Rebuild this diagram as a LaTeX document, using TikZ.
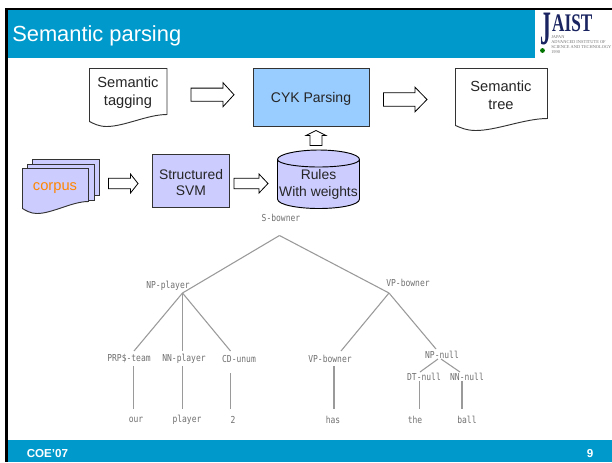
\documentclass[tikz,border=0pt]{standalone}
\usepackage{fontspec}
\setmainfont{Liberation Sans}
\newfontfamily\treefont{DejaVu Sans Mono}
\newfontfamily\logofont{Liberation Serif}
\definecolor{teal}{HTML}{0099CC}
\definecolor{lav}{HTML}{CCCCFF}
\definecolor{sky}{HTML}{99CCFF}
\definecolor{edge}{HTML}{333333}
\definecolor{treecol}{HTML}{9A9A9A}
\definecolor{treetxt}{HTML}{707070}
\definecolor{navy}{HTML}{1A2460}
\tikzset{
 x=0.75pt,y=-0.75pt,
 tnode/.style={text=treetxt,font=\treefont\fontsize{6}{7}\selectfont,inner sep=0pt,yscale=1.2},
 tline/.style={draw=treecol,line width=0.8pt},
 blockarrow/.style={draw=black,fill=white,line width=0.6pt},
 doc/.style={draw=edge,line width=0.7pt},
 lbl/.style={inner sep=0pt,align=center,font=\fontsize{11}{13.5}\selectfont,text=black!85},
 lbltight/.style={inner sep=0pt,align=center,font=\fontsize{10.4}{12.5}\selectfont,text=black!85},
}
\newcommand{\docshape}[5]{%
 \draw[doc,fill=#5] (#1,#2) -- (#3,#2) -- (#3,#4)
   .. controls ({#3-(#3-#1)*0.25},#4) and ({#3-(#3-#1)*0.55},{#4+12}) .. ({#1+(#3-#1)*0.22},{#4+12})
   .. controls ({#1+(#3-#1)*0.12},{#4+12}) and ({#1+(#3-#1)*0.05},{#4+9}) .. (#1,{#4+7}) -- cycle;}
% x0, x1, yc, half height, head length
\newcommand{\rarrow}[5]{%
 \draw[blockarrow] (#1,{#3-#4*0.55}) -- ({#2-#5},{#3-#4*0.55}) -- ({#2-#5},{#3-#4}) -- (#2,#3) -- ({#2-#5},{#3+#4}) -- ({#2-#5},{#3+#4*0.55}) -- (#1,{#3+#4*0.55}) -- cycle;}
\begin{document}
\begin{tikzpicture}
\useasboundingbox (0,0) rectangle (612,462);
\fill[white] (0,0) rectangle (612,462);
% frame
\fill[black] (5,7.5) rectangle (612,10);
\fill[black] (5,7.5) rectangle (8,462);
\fill[teal] (8,10) rectangle (535,58);
\fill[teal] (8,440) rectangle (612,462);
\node[anchor=west,text=white,inner sep=0pt,font=\fontsize{16.4}{18}\selectfont] (title) at (12,36) {Semantic parsing};
% logo
\node[anchor=north west,inner sep=0pt,text=navy,font=\logofont\bfseries\fontsize{36}{36}\selectfont,xscale=0.45] (logoj) at (540.5,13) {J};
\node[anchor=north west,inner sep=0pt,text=navy,font=\logofont\bfseries\fontsize{19}{19}\selectfont,xscale=0.68] (logoa) at (552,14.5) {AIST};
\fill[green!45!black] (542.5,50.5) circle (2.4);
\begin{scope}
\clip (535,30) rectangle (612,58);
\node[anchor=north west,inner sep=0pt,align=left,text=black!55,font=\logofont\fontsize{3.3}{3.6}\selectfont] (logosub) at (551,35.5) {JAPAN\\ADVANCED INSTITUTE OF\\SCIENCE AND TECHNOLOGY\\1990};
\end{scope}
% documents
\docshape{89.5}{68.5}{167}{114.5}{white}
\node[lbl] (tag) at (128,93) {Semantic\\tagging};
\docshape{455.5}{68.5}{547.5}{118.5}{white}
\node[lbl] (tree) at (501,95) {Semantic\\tree};
% CYK
\draw[draw=edge,line width=0.7pt,fill=sky] (253.5,68.5) rectangle (369,126);
\node[lbl,font=\fontsize{10.5}{13}\selectfont] (cyk) at (311,98.5) {CYK Parsing};
% corpus stack
\draw[doc,fill=lav] (32.5,159.5) rectangle (99.5,195);
\draw[doc,fill=lav] (27.5,164.5) rectangle (94,200);
\docshape{22.5}{168.5}{88.5}{201.5}{lav}
\node[lbl,text=orange!95!yellow] (corpus) at (55,188) {corpus};
% SVM
\draw[draw=edge,line width=0.7pt,fill=lav] (152,154.5) rectangle (229.5,207.5);
\node[lbltight] (svm) at (191,182.5) {Structured\\SVM};
% cylinder
\draw[draw=black,line width=0.7pt,fill=lav] (277.5,159.5) -- (277.5,199)
  .. controls (277.5,205) and (299,208.5) .. (318.5,208.5)
  .. controls (340,208.5) and (359.5,205) .. (359.5,199) -- (359.5,159.5)
  .. controls (359.5,154) and (340,150) .. (318.5,150)
  .. controls (299,150) and (277.5,154) .. (277.5,159.5) -- cycle;
\draw[draw=black,line width=0.7pt] (277.5,159.5)
  .. controls (277.5,164) and (299,167) .. (318.5,167)
  .. controls (340,167) and (359.5,164) .. (359.5,159.5);
\node[lbltight] (rules) at (318.5,184.5) {Rules\\With weights};
% block arrows
\rarrow{191}{234}{94.7}{12}{11}
\rarrow{383.5}{427}{99.5}{12.3}{12}
\rarrow{108.5}{138}{183.5}{9.5}{7.5}
\rarrow{234}{268}{183.5}{9.5}{9}
\draw[blockarrow] (310,145.5) -- (310,135.5) -- (306,135.5) -- (316,130.5) -- (326,135.5) -- (322,135.5) -- (322,145.5) -- cycle;
% tree
\node[tnode] (s) at (281,217.5) {S-bowner};
\coordinate (sj) at (279.5,235.5);
\coordinate (npj) at (182.5,293);
\coordinate (vpj) at (389,293);
\node[tnode] (np) at (168,286) {NP-player};
\node[tnode] (vp) at (408,282.5) {VP-bowner};
\draw[tline] (sj) -- (npj);
\draw[tline] (sj) -- (vpj);
\node[tnode] (prp) at (129,358.5) {PRP\$-team};
\node[tnode] (nn) at (184,358.5) {NN-player};
\node[tnode] (cd) at (239,358.5) {CD-unum};
\node[tnode] (vb) at (330,358.5) {VP-bowner};
\node[tnode] (npn) at (442,355) {NP-null};
\node[tnode] (dt) at (424,377) {DT-null};
\node[tnode] (nnn) at (467,377) {NN-null};
\draw[tline] (npj) -- (134,351);
\draw[tline] (npj) -- (182.5,351);
\draw[tline] (npj) -- (230.5,351);
\draw[tline] (vpj) -- (341,351);
\draw[tline] (vpj) -- (436,349);
\draw[tline] (438,359) -- (420,372);
\draw[tline] (441,359) -- (460,372);
\node[tnode] (w1) at (136,420) {our};
\node[tnode] (w2) at (187,420) {player};
\node[tnode] (w3) at (233,420) {2};
\node[tnode] (w4) at (333,420) {has};
\node[tnode] (w5) at (415,420) {the};
\node[tnode] (w6) at (467,420) {ball};
\draw[tline] (133.5,366) -- (133.5,409);
\draw[tline] (182.5,366) -- (182.5,409);
\draw[tline] (230.5,373) -- (230.5,409);
\draw[tline] (334,366) -- (334,409);
\draw[tline] (419.5,381) -- (419.5,409);
\draw[tline] (462,381) -- (462,409);
% footer
\node[anchor=west,text=white,inner sep=0pt,font=\bfseries\fontsize{8.7}{10}\selectfont] (coe) at (26.5,453) {COE’07};
\node[text=white,inner sep=0pt,font=\bfseries\fontsize{8.7}{10}\selectfont] (num) at (590,453) {9};
\end{tikzpicture}
\end{document}
